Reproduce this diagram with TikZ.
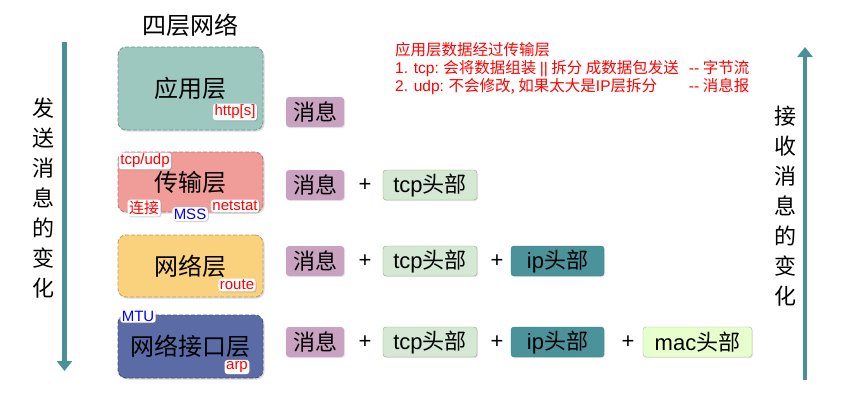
\documentclass[tikz,border=0pt]{standalone}
\usepackage{fontspec}
\setmainfont{Noto Sans CJK SC}
\newfontfamily\latin{Liberation Sans}
\usepackage{xcolor}
\usetikzlibrary{arrows.meta,shadows,positioning}

\definecolor{appcol}{HTML}{9DC8BF}
\definecolor{transcol}{HTML}{F09C98}
\definecolor{netcol}{HTML}{FAD27E}
\definecolor{linkcol}{HTML}{5A6BA6}
\definecolor{msgcol}{HTML}{C9A2C2}
\definecolor{tcpcol}{HTML}{D5E8D4}
\definecolor{tcpline}{HTML}{82B366}
\definecolor{ipcol}{HTML}{4A939B}
\definecolor{maccol}{HTML}{E6FFCC}
\definecolor{macline}{HTML}{9FBFA0}
\definecolor{flowcol}{HTML}{4A9099}

\tikzset{
  layer/.style={rectangle,rounded corners=8pt,dashed,dash pattern=on 4pt off 2pt,
    line width=0.8pt,minimum width=145pt,font=\fontsize{24}{28}\selectfont,
    drop shadow={shadow xshift=1.5pt,shadow yshift=-1.5pt,opacity=.3}},
  tag/.style={rectangle,rounded corners=3pt,fill=white,inner sep=1.5pt,text=red,
    font=\fontsize{15}{16}\selectfont\latin,
    drop shadow={shadow xshift=1pt,shadow yshift=-1pt,opacity=.35}},
  part/.style={rectangle,rounded corners=3pt,minimum height=30pt,inner sep=0pt,
    font=\fontsize{22}{24}\selectfont,
    drop shadow={shadow xshift=1pt,shadow yshift=-1pt,opacity=.2}},
  plus/.style={font=\fontsize{22}{24}\selectfont\latin},
  flow/.style={draw=flowcol,line width=4.5pt,-{Triangle[width=15pt,length=10pt]}},
  side/.style={align=center,font=\fontsize{22}{30}\selectfont}
}

\begin{document}
\begin{tikzpicture}[x=1pt,y=-1pt]
    \useasboundingbox (0,0) rectangle (848,410);

    % Title
    \node[font=\fontsize{24}{28}\selectfont] (title) at (190,25) {四层网络};

    % Layers
    \node[layer,fill=appcol,draw=appcol!75!black,minimum height=83pt] (app) at (190.5,88.5) {应用层};
    \node[layer,fill=transcol,draw=transcol!75!black,minimum height=60pt] (trans) at (190.5,182) {传输层};
    \node[layer,fill=netcol,draw=netcol!75!black,minimum height=62pt] (net) at (190.5,266) {网络层};
    \node[layer,fill=linkcol,draw=linkcol!75!black,minimum height=63pt] (link) at (190.5,346.5) {网络接口层};

    % Tags on the layers
    \node[tag] (http) at (235,112) {http[s]};
    \node[tag] (tcpudp) at (145,161) {tcp/udp};
    \node[tag,font=\fontsize{15}{16}\selectfont] (conn) at (144,208) {连接};
    \node[tag,text=blue] (mss) at (190,214) {MSS};
    \node[tag] (netstat) at (235,206) {netstat};
    \node[tag] (route) at (237,285) {route};
    \node[tag,text=blue] (mtu) at (138,316) {MTU};
    \node[tag] (arp) at (237,367) {arp};

    % Message rows
    \foreach \r/\y in {1/112,2/185,3/261,4/342} {
        \node[part,fill=msgcol,minimum width=58pt] (msg\r) at (315,\y) {消息};
    }
    \foreach \r/\y in {2/185,3/261,4/342} {
        \node[plus] (pa\r) at (365,\y) {+};
        \node[part,fill=tcpcol,draw=tcpline,minimum width=94pt] (tcp\r) at (430,\y) {{\latin tcp}头部};
    }
    \foreach \r/\y in {3/261,4/342} {
        \node[plus] (pb\r) at (497,\y) {+};
        \node[part,fill=ipcol,draw=ipcol!85!black,minimum width=93pt] (ip\r) at (557.5,\y) {{\latin ip}头部};
    }
    \node[plus] (pc4) at (628,342) {+};
    \node[part,fill=maccol,draw=macline,minimum width=109pt] (mac4) at (697.5,342) {{\latin mac}头部};

    % Note on the transport layer
    \node[anchor=north west,text=red,inner sep=0pt,font=\fontsize{15.5}{16}\selectfont] (note) at (395,42) {%
        \begin{tabular}{@{}l@{\hspace{10pt}}l@{}}
        \multicolumn{2}{@{}l@{}}{应用层数据经过传输层}\\
        {\latin 1. tcp:} 会将数据组装 {\latin ||} 拆分 成数据包发送 & {\latin -{}-} 字节流\\
        {\latin 2. udp:} 不会修改, 如果太大是{\latin IP}层拆分 & {\latin -{}-} 消息报
        \end{tabular}};

    % Send and receive arrows
    \coordinate (sendtop) at (64.5,42);
    \coordinate (sendbot) at (64.5,371);
    \coordinate (recvbot) at (805,380);
    \coordinate (recvtop) at (805,47);
    \draw[flow] (sendtop) -- (sendbot);
    \draw[flow] (recvbot) -- (recvtop);
    \node[side] (sendtxt) at (43,198) {发\\送\\消\\息\\的\\变\\化};
    \node[side] (recvtxt) at (785,206) {接\\收\\消\\息\\的\\变\\化};
\end{tikzpicture}
\end{document}
